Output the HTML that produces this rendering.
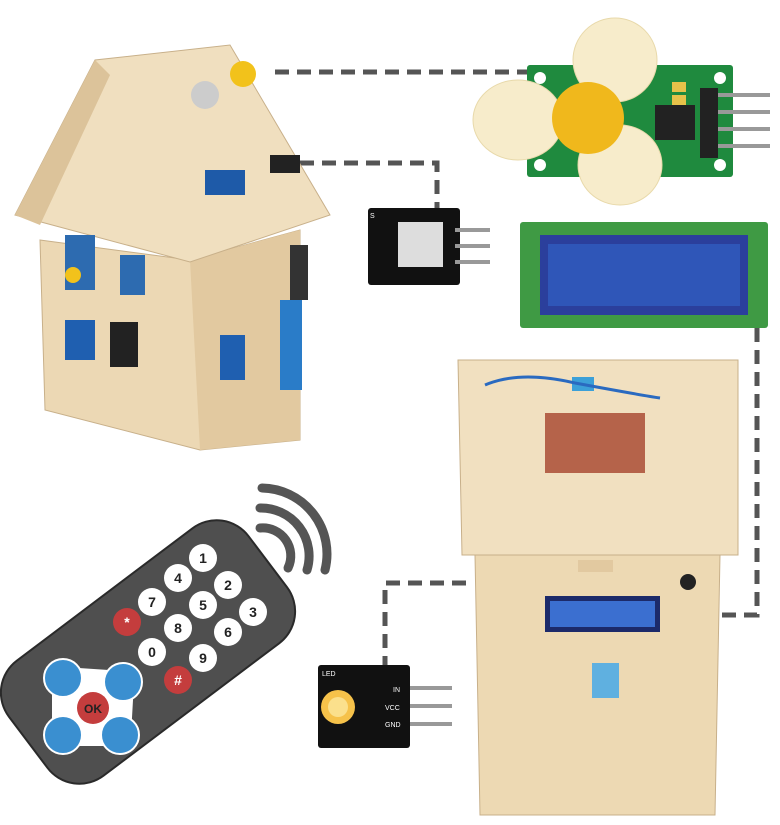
<!DOCTYPE html>
<html><head><meta charset="utf-8"><style>
html,body{margin:0;padding:0;background:#fff;width:780px;height:825px;overflow:hidden}
svg{display:block}
text{font-family:"Liberation Sans",sans-serif}
</style></head><body>
<svg width="780" height="825" viewBox="0 0 780 825">
<!-- dashed connectors -->
<g stroke="#555" stroke-width="5" fill="none" stroke-dasharray="14,8">
<path d="M275 72 H530"/>
<path d="M300 163 H437 V210"/>
<path d="M757 328 V615 H662"/>
<path d="M466 583 H385 V680"/>
</g>
<!-- left house -->
<polygon points="40,240 190,260 300,230 300,440 200,450 45,410" fill="#ecd8b4" stroke="#c8b08a"/>
<polygon points="190,260 300,230 300,440 200,450" fill="#e2c9a0"/>
<polygon points="15,215 95,60 230,45 330,215 190,262" fill="#f0dfbf" stroke="#c8b08a"/>
<polygon points="15,215 95,60 110,75 40,225" fill="#dcc39a"/>
<rect x="65" y="235" width="30" height="55" fill="#2d6bb0"/>
<circle cx="73" cy="275" r="8" fill="#f2c21b"/>
<rect x="120" y="255" width="25" height="40" fill="#2d6bb0"/>
<rect x="65" y="320" width="30" height="40" fill="#1f5fb0"/>
<rect x="110" y="322" width="28" height="45" fill="#222"/>
<rect x="220" y="335" width="25" height="45" fill="#1f5fb0"/>
<rect x="280" y="300" width="22" height="90" fill="#2a7cc8"/>
<rect x="290" y="245" width="18" height="55" fill="#333"/>
<circle cx="205" cy="95" r="14" fill="#ccc"/>
<circle cx="243" cy="74" r="13" fill="#f2c21b"/>
<rect x="205" y="170" width="40" height="25" fill="#1e5aa8"/>
<rect x="270" y="155" width="30" height="18" fill="#222"/>
<!-- fan module -->
<rect x="527" y="65" width="206" height="112" fill="#1f8a3e" rx="3"/>
<circle cx="540" cy="78" r="6" fill="#fff"/><circle cx="540" cy="165" r="6" fill="#fff"/>
<circle cx="720" cy="78" r="6" fill="#fff"/><circle cx="720" cy="165" r="6" fill="#fff"/>
<rect x="655" y="105" width="40" height="35" fill="#222"/>
<rect x="700" y="88" width="18" height="70" fill="#222"/>
<g stroke="#999" stroke-width="4"><path d="M718 95 H770 M718 112 H770 M718 129 H770 M718 146 H770"/></g>
<rect x="672" y="82" width="14" height="10" fill="#e6c24a"/><rect x="672" y="95" width="14" height="10" fill="#e6c24a"/>
<g fill="#f7eccb" stroke="#e8d9aa">
<ellipse cx="615" cy="60" rx="42" ry="42"/>
<ellipse cx="518" cy="120" rx="45" ry="40"/>
<ellipse cx="620" cy="165" rx="42" ry="40"/>
</g>
<circle cx="588" cy="118" r="36" fill="#f0b81c"/>
<!-- sound module -->
<rect x="368" y="208" width="92" height="77" fill="#111" rx="3"/>
<rect x="398" y="222" width="45" height="45" fill="#ddd"/>
<g stroke="#999" stroke-width="4"><path d="M455 230 H490 M455 246 H490 M455 262 H490"/></g>
<text x="370" y="218" font-size="7" fill="#fff">S</text>
<!-- LCD -->
<rect x="520" y="222" width="248" height="106" fill="#3f9a44" rx="3"/>
<rect x="540" y="235" width="208" height="80" fill="#2b3f9c"/>
<rect x="548" y="244" width="192" height="62" fill="#2f56b8"/>
<!-- right house -->
<polygon points="475,555 720,555 715,815 480,815" fill="#edd9b3" stroke="#c8b08a"/>
<polygon points="458,360 738,360 738,555 462,555" fill="#f1e0c0" stroke="#c8b08a"/>
<rect x="545" y="413" width="100" height="60" fill="#b5634a"/>
<rect x="572" y="377" width="22" height="14" fill="#3ca0d8"/>
<path d="M485 385 Q520 370 575 383 M575 383 Q640 395 660 398" stroke="#2a6ac0" stroke-width="3" fill="none"/>
<rect x="545" y="596" width="115" height="36" fill="#1c2a6a"/>
<rect x="550" y="601" width="105" height="26" fill="#3b6fd0"/>
<rect x="592" y="663" width="27" height="35" fill="#5fb0e0"/>
<circle cx="688" cy="582" r="8" fill="#222"/>
<rect x="578" y="560" width="35" height="12" fill="#e2c9a0"/>
<!-- LED module -->
<rect x="318" y="665" width="92" height="83" fill="#111" rx="3"/>
<text x="322" y="676" font-size="7" fill="#fff">LED</text>
<circle cx="338" cy="707" r="17" fill="#f6c24a"/><circle cx="338" cy="707" r="10" fill="#fbe08c"/>
<text x="393" y="692" font-size="7" fill="#fff">IN</text>
<text x="385" y="710" font-size="7" fill="#fff">VCC</text>
<text x="385" y="727" font-size="7" fill="#fff">GND</text>
<g stroke="#999" stroke-width="4"><path d="M410 688 H452 M410 706 H452 M410 724 H452"/></g>
<!-- wifi arcs -->
<g stroke="#555" stroke-width="9" fill="none" stroke-linecap="round">
<path d="M260 528 A28 28 0 0 1 288 568"/>
<path d="M260 508 A48 48 0 0 1 307 570"/>
<path d="M262 488 A66 66 0 0 1 325 570"/>
</g>
<!-- remote -->
<rect x="-150" y="-72" width="300" height="144" rx="40" fill="#4f4f4f" stroke="#2a2a2a" stroke-width="2" transform="translate(148,652) rotate(-37)"/>
<g font-size="14" font-weight="bold" fill="#222" text-anchor="middle">
<g fill="#fff">
<circle cx="203" cy="558" r="14"/><circle cx="178" cy="578" r="14"/><circle cx="228" cy="585" r="14"/>
<circle cx="152" cy="602" r="14"/><circle cx="203" cy="605" r="14"/><circle cx="253" cy="612" r="14"/>
<circle cx="178" cy="628" r="14"/><circle cx="228" cy="632" r="14"/><circle cx="152" cy="652" r="14"/>
<circle cx="203" cy="658" r="14"/></g>
<circle cx="127" cy="622" r="14" fill="#c43d3d"/><circle cx="178" cy="680" r="14" fill="#c43d3d"/>
<text x="203" y="563">1</text><text x="178" y="583">4</text><text x="228" y="590">2</text>
<text x="152" y="607">7</text><text x="203" y="610">5</text><text x="253" y="617">3</text>
<text x="178" y="633">8</text><text x="228" y="637">6</text><text x="152" y="657">0</text>
<text x="203" y="663">9</text><text x="127" y="627" fill="#fff">*</text><text x="178" y="685" fill="#fff">#</text>
</g>
<g>
<path d="M63 678 L123 682 L120 735 L63 735 Z" fill="#fff" stroke="#fff" stroke-width="22" stroke-linejoin="round"/>
<circle cx="63" cy="678" r="19" fill="#3a8fd0" stroke="#fff" stroke-width="2"/>
<circle cx="123" cy="682" r="19" fill="#3a8fd0" stroke="#fff" stroke-width="2"/>
<circle cx="63" cy="735" r="19" fill="#3a8fd0" stroke="#fff" stroke-width="2"/>
<circle cx="120" cy="735" r="19" fill="#3a8fd0" stroke="#fff" stroke-width="2"/>
<circle cx="93" cy="708" r="16" fill="#c43d3d"/>
<text x="93" y="713" font-size="12" font-weight="bold" fill="#222" text-anchor="middle">OK</text>
</g>
</svg>
</body></html>
